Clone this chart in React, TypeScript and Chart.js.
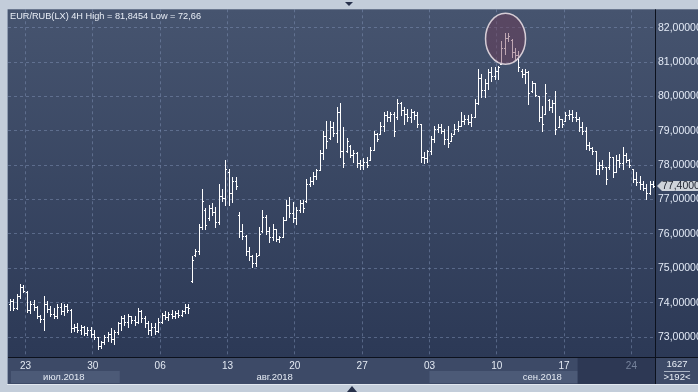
import React, { useEffect, useRef } from 'react';
import { Chart, registerables } from 'chart.js';

Chart.register(...registerables);

const chartTitle = 'EUR/RUB(LX) 4H High = 81,8454 Low = 72,66';
const weekStartBars = [4, 24, 44, 64, 84, 104, 124, 144, 164, 184];
const weekLabels = ['23', '30', '06', '13', '20', '27', '03', '10', '17', '24'];
const monthStartBars = [0, 32, 124];
const monthLabels = ['июл.2018', 'авг.2018', 'сен.2018'];
const yTickValues = [73, 74, 75, 76, 77, 78, 79, 80, 81, 82];
const lastPrice = 77.4;
const totalBarsLabel = '1627';
const visibleBarsLabel = '>192<';
const highlightBar = 147.2;
const highlightPrice = 81.68;
const dimFromBar = 168;

const opens = [
  73.95, 74.05, 73.85, 74.20,
  74.45, 74.30, 73.80, 73.95, 73.88, 73.60, 73.52, 73.95, 73.82, 73.68, 73.62, 73.88, 73.75, 73.90, 73.80, 73.25, 73.30, 73.22, 73.28, 73.12,
  73.20, 73.10, 73.00, 72.75, 72.85, 73.00, 73.10, 72.95, 73.15, 73.40, 73.55, 73.45, 73.60, 73.50, 73.45, 73.75, 73.55, 73.40, 73.20, 73.30,
  73.18, 73.45, 73.65, 73.58, 73.68, 73.62, 73.70, 73.65, 73.75, 73.88, 74.62, 75.40, 75.50, 76.20, 76.70, 76.45, 76.75, 76.65, 76.35, 77.10,
  77.05, 77.80, 77.20, 77.55, 76.55, 76.10, 75.95, 75.50, 75.35, 75.15, 75.40, 76.10, 76.50, 76.10, 75.90, 76.15, 75.85, 75.92, 76.40, 76.85,
  76.60, 76.45, 76.70, 76.90, 76.95, 77.45, 77.55, 77.70, 77.85, 78.35, 78.85, 78.80, 79.10, 78.95, 79.55, 78.40, 78.40, 78.55, 78.30, 78.35,
  78.05, 78.00, 78.10, 78.15, 78.45, 78.90, 78.92, 79.15, 79.45, 79.40, 79.50, 79.40, 79.80, 79.60, 79.50, 79.40, 79.55, 79.45, 79.20, 78.25,
  78.20, 78.40, 78.75, 79.05, 79.10, 79.00, 78.75, 78.70, 78.92, 79.05, 79.15, 79.30, 79.35, 79.25, 79.40, 79.80, 80.55, 80.20, 80.40, 80.70,
  80.60, 80.75, 80.95, 81.40, 81.70, 81.65, 81.30, 81.20, 80.75, 80.65, 80.70, 80.15, 80.40, 80.00, 79.40, 79.50, 79.90, 79.70, 79.80, 79.10,
  79.35, 79.30, 79.45, 79.50, 79.40, 79.35, 79.10, 79.00, 78.60, 78.50, 78.40, 77.90, 78.00, 77.95, 77.95, 78.25, 77.80, 78.15, 78.05, 78.30,
  78.15, 77.90, 77.60, 77.50, 77.45, 77.35, 77.20, 77.45,
];
const highs = [
  74.12, 74.10, 74.25, 74.55,
  74.52, 74.35, 74.05, 74.08, 73.90, 73.65, 74.20, 74.05, 73.90, 73.85, 73.95, 73.98, 73.95, 73.95, 73.82, 73.38, 73.40, 73.35, 73.32, 73.30,
  73.30, 73.22, 73.00, 72.90, 73.05, 73.15, 73.25, 73.20, 73.45, 73.60, 73.65, 73.68, 73.62, 73.62, 73.85, 73.78, 73.60, 73.48, 73.40, 73.42,
  73.55, 73.70, 73.75, 73.72, 73.80, 73.75, 73.78, 73.80, 73.95, 73.95, 75.35, 75.57, 76.30, 77.32, 76.75, 76.85, 76.90, 76.78, 77.46, 77.30,
  78.14, 77.90, 77.65, 77.65, 76.64, 76.30, 75.96, 75.62, 75.40, 75.45, 76.20, 76.69, 76.55, 76.20, 76.30, 76.15, 75.95, 76.49, 76.98, 77.07,
  76.93, 76.78, 76.98, 76.98, 77.60, 77.65, 77.80, 77.90, 78.45, 79.00, 79.30, 79.30, 79.25, 79.69, 79.80, 79.10, 78.80, 78.60, 78.43, 78.38,
  78.14, 78.20, 78.25, 78.52, 79.00, 78.95, 79.25, 79.54, 79.59, 79.55, 79.54, 79.93, 79.85, 79.70, 79.64, 79.64, 79.59, 79.55, 79.20, 78.38,
  78.45, 78.86, 79.15, 79.20, 79.20, 79.05, 79.15, 78.95, 79.20, 79.30, 79.54, 79.45, 79.45, 79.50, 79.93, 80.80, 80.65, 80.50, 80.80, 80.85,
  80.85, 80.90, 81.62, 81.85, 81.8454, 81.67, 81.40, 81.33, 80.80, 80.80, 80.75, 80.46, 80.40, 80.00, 79.73, 80.36, 79.93, 79.90, 80.17, 79.44,
  79.35, 79.54, 79.60, 79.60, 79.55, 79.40, 79.25, 79.10, 78.67, 78.52, 78.42, 78.09, 78.14, 77.95, 78.38, 78.25, 78.30, 78.33, 78.52, 78.35,
  78.18, 77.90, 77.80, 77.70, 77.55, 77.46, 77.55, 77.55,
];
const lows = [
  73.78, 73.80, 73.82, 74.15,
  74.30, 73.72, 73.70, 73.78, 73.55, 73.45, 73.20, 73.72, 73.60, 73.55, 73.55, 73.68, 73.65, 73.72, 73.15, 73.18, 73.15, 73.10, 73.05, 73.05,
  73.00, 72.95, 72.66, 72.68, 72.80, 72.90, 72.85, 72.80, 73.10, 73.20, 73.35, 73.30, 73.40, 73.35, 73.40, 73.45, 73.30, 73.10, 73.05, 73.10,
  73.15, 73.40, 73.52, 73.50, 73.55, 73.55, 73.58, 73.60, 73.70, 73.70, 74.60, 75.35, 75.43, 76.15, 76.15, 76.40, 76.55, 76.20, 76.30, 76.95,
  76.83, 76.83, 76.93, 77.30, 75.91, 75.86, 75.38, 75.24, 75.04, 75.08, 75.38, 76.06, 76.00, 75.77, 75.82, 75.80, 75.78, 75.91, 76.40, 76.49,
  76.35, 76.30, 76.64, 76.64, 76.93, 77.40, 77.46, 77.60, 77.85, 78.19, 78.50, 78.77, 78.85, 78.67, 78.23, 77.94, 78.38, 78.25, 78.09, 77.94,
  77.90, 77.90, 77.95, 78.14, 78.43, 78.70, 78.91, 79.00, 79.30, 79.30, 78.86, 79.35, 79.45, 79.20, 79.30, 79.25, 79.35, 79.10, 78.09, 78.06,
  78.10, 78.33, 78.67, 78.96, 78.95, 78.62, 78.52, 78.70, 78.91, 79.00, 79.15, 79.20, 79.20, 79.15, 79.40, 79.78, 79.98, 79.98, 80.22, 80.46,
  80.50, 80.50, 80.94, 81.23, 81.62, 81.14, 81.10, 80.75, 80.56, 80.40, 79.78, 80.12, 80.00, 79.30, 79.00, 79.50, 79.60, 79.55, 78.91, 79.10,
  79.10, 79.30, 79.35, 79.30, 79.30, 79.00, 78.91, 78.48, 78.43, 78.33, 77.75, 77.75, 77.90, 77.46, 77.90, 77.65, 77.80, 77.94, 77.90, 78.10,
  77.94, 77.50, 77.41, 77.30, 77.27, 77.03, 77.15, 77.36,
];
const closes = [
  74.05, 73.85, 74.20, 74.45,
  74.35, 73.80, 73.95, 73.88, 73.60, 73.52, 73.95, 73.82, 73.68, 73.62, 73.88, 73.75, 73.90, 73.80, 73.25, 73.30, 73.22, 73.28, 73.12, 73.20,
  73.10, 73.00, 72.75, 72.85, 73.00, 73.10, 72.95, 73.15, 73.40, 73.55, 73.45, 73.60, 73.50, 73.45, 73.75, 73.55, 73.40, 73.20, 73.30, 73.18,
  73.45, 73.65, 73.58, 73.68, 73.62, 73.70, 73.65, 73.75, 73.88, 73.85, 75.25, 75.50, 76.20, 76.95, 76.25, 76.75, 76.65, 76.35, 77.10, 77.05,
  77.90, 77.20, 77.55, 77.40, 76.10, 75.95, 75.50, 75.35, 75.15, 75.35, 76.00, 76.50, 76.10, 75.90, 76.15, 75.85, 75.90, 76.40, 76.85, 76.60,
  76.45, 76.70, 76.90, 76.75, 77.45, 77.55, 77.70, 77.85, 78.35, 78.85, 78.70, 79.10, 78.95, 79.55, 78.40, 78.05, 78.70, 78.30, 78.35, 78.05,
  78.00, 78.10, 78.00, 78.45, 78.90, 78.75, 79.15, 79.45, 79.40, 79.50, 79.00, 79.80, 79.60, 79.50, 79.40, 79.55, 79.45, 79.20, 78.25, 78.20,
  78.40, 78.75, 79.05, 79.10, 79.00, 78.75, 78.65, 78.85, 79.05, 79.15, 79.30, 79.35, 79.25, 79.40, 79.80, 80.55, 80.20, 80.40, 80.70, 80.60,
  80.75, 80.85, 81.40, 81.70, 81.75, 81.30, 81.20, 80.85, 80.65, 80.70, 80.10, 80.40, 80.05, 79.40, 79.20, 80.10, 79.70, 79.80, 79.05, 79.35,
  79.20, 79.45, 79.50, 79.40, 79.35, 79.10, 79.00, 78.60, 78.50, 78.40, 77.90, 78.00, 77.95, 77.60, 78.25, 77.80, 78.15, 78.05, 78.30, 78.15,
  78.00, 77.60, 77.50, 77.45, 77.35, 77.20, 77.45, 77.40,
];

const FONT = '"Liberation Sans", Arial, sans-serif';
const GRID = 'rgba(128,146,182,0.5)';
const BOFF = 0.6;

export default function App() {
  const ref = useRef<HTMLCanvasElement>(null);

  useEffect(() => {
    document.body.style.margin = '0';
    const canvas = ref.current;
    if (!canvas) return;

    const fmt = (v: number) => v.toFixed(5).replace('.', ',');

    const bgPlugin = {
      id: 'terminalBg',
      beforeDraw(chart: any) {
        const { ctx, chartArea: ca, width, height } = chart;
        const xs = chart.scales.x;
        const bandBottom = ca.bottom + 27;
        ctx.save();
        ctx.fillStyle = '#c3cdda';
        ctx.fillRect(0, 0, width, height);
        ctx.fillStyle = '#8e9bb0';
        ctx.fillRect(ca.left - 1, ca.top, 1, bandBottom - ca.top);
        const g = ctx.createLinearGradient(0, ca.top, 0, ca.bottom);
        g.addColorStop(0, '#46546f');
        g.addColorStop(1, '#2c3956');
        ctx.fillStyle = g;
        ctx.fillRect(ca.left, ca.top, width - ca.left, ca.bottom - ca.top);
        ctx.fillStyle = '#3d4a67';
        ctx.fillRect(ca.left, ca.bottom, width - ca.left, bandBottom - ca.bottom);
        const rowTop = ca.bottom + 14;
        const rowH = 12;
        ctx.font = `9.5px ${FONT}`;
        ctx.textAlign = 'center';
        ctx.textBaseline = 'middle';
        monthStartBars.forEach((b, k) => {
          const x0 = k === 0 ? ca.left + 3 : xs.getPixelForValue(b + BOFF);
          const x1 = k + 1 < monthStartBars.length ? xs.getPixelForValue(monthStartBars[k + 1] + BOFF) : ca.right;
          if (k % 2 === 0) {
            ctx.fillStyle = '#4c5a77';
            ctx.fillRect(x0, rowTop, x1 - x0, rowH);
          }
        });
        const xd = xs.getPixelForValue(dimFromBar + BOFF);
        ctx.fillStyle = '#2d3854';
        ctx.fillRect(xd, ca.bottom, ca.right - xd, bandBottom - ca.bottom);
        monthStartBars.forEach((b, k) => {
          const x0 = k === 0 ? ca.left : xs.getPixelForValue(b + BOFF);
          const x1 = k + 1 < monthStartBars.length ? xs.getPixelForValue(monthStartBars[k + 1] + BOFF) : ca.right;
          ctx.fillStyle = '#e4eaf3';
          ctx.fillText(monthLabels[k], (x0 + x1) / 2, rowTop + 6);
        });
        ctx.fillStyle = '#0c111d';
        ctx.fillRect(ca.left, ca.bottom, width - ca.left, 1);
        ctx.fillRect(ca.right, ca.top, 1, bandBottom - ca.top);
        ctx.fillStyle = '#e2e8f0';
        ctx.fillRect(ca.left - 1, bandBottom, width, 1);
        ctx.restore();
      },
    };

    const ohlcPlugin = {
      id: 'ohlc',
      beforeDatasetDraw(chart: any, args: any) {
        if (args.index !== 0) return;
        const { ctx } = chart;
        const ys = chart.scales.y;
        ctx.save();
        ctx.fillStyle = '#ffffff';
        args.meta.data.forEach((el: any, i: number) => {
          const x = Math.round(el.x);
          const top = Math.round(Math.min(el.y, el.base));
          const bot = Math.round(Math.max(el.y, el.base));
          ctx.fillRect(x, top, 1, Math.max(1, bot - top + 1));
          ctx.fillRect(x - 1, Math.round(ys.getPixelForValue(opens[i])), 1, 1);
          ctx.fillRect(x + 1, Math.round(ys.getPixelForValue(closes[i])), 1, 1);
        });
        ctx.restore();
        return false;
      },
    };

    const overlayPlugin = {
      id: 'overlay',
      afterDatasetsDraw(chart: any) {
        const { ctx } = chart;
        const xs = chart.scales.x;
        const ys = chart.scales.y;
        ctx.save();
        ctx.beginPath();
        ctx.ellipse(xs.getPixelForValue(highlightBar), ys.getPixelForValue(highlightPrice), 20, 25.5, 0, 0, Math.PI * 2);
        ctx.fillStyle = 'rgba(113,58,84,0.45)';
        ctx.fill();
        ctx.lineWidth = 1.5;
        ctx.strokeStyle = '#d6cdd6';
        ctx.stroke();
        ctx.restore();
      },
      afterDraw(chart: any) {
        const { ctx, chartArea: ca, width } = chart;
        const ys = chart.scales.y;
        ctx.save();
        ctx.font = `9.2px ${FONT}`;
        ctx.textAlign = 'left';
        ctx.textBaseline = 'middle';
        ctx.fillStyle = '#e9eef6';
        ctx.fillText(chartTitle, ca.left + 2, ca.top + 7);
        const py = Math.round(ys.getPixelForValue(lastPrice));
        ctx.beginPath();
        ctx.moveTo(ca.right + 2, py);
        ctx.lineTo(ca.right + 7, py - 5);
        ctx.lineTo(width, py - 5);
        ctx.lineTo(width, py + 5);
        ctx.lineTo(ca.right + 7, py + 5);
        ctx.closePath();
        ctx.fillStyle = '#cfd3da';
        ctx.fill();
        ctx.fillStyle = '#1e2330';
        ctx.font = `10.5px ${FONT}`;
        ctx.fillText(fmt(lastPrice), ca.right + 7, py + 0.5);
        const cx = (ca.right + 1 + width) / 2;
        ctx.textAlign = 'center';
        ctx.font = `9.5px ${FONT}`;
        ctx.fillStyle = '#e8eef6';
        ctx.fillText(totalBarsLabel, cx, ca.bottom + 7.5);
        ctx.fillText(visibleBarsLabel, cx, ca.bottom + 20.5);
        ctx.fillStyle = '#aab4c4';
        ctx.fillRect(cx - 13, ca.bottom + 14, 26, 1);
        ctx.fillStyle = '#26304a';
        ctx.beginPath();
        ctx.moveTo(345, 2);
        ctx.lineTo(353, 2);
        ctx.lineTo(349, 6);
        ctx.closePath();
        ctx.fill();
        ctx.beginPath();
        ctx.moveTo(347, 392);
        ctx.lineTo(357, 392);
        ctx.lineTo(352, 386);
        ctx.closePath();
        ctx.fill();
        ctx.restore();
      },
    };

    const chart = new Chart(canvas, {
      type: 'bar',
      data: {
        datasets: [
          {
            data: highs.map((h, i) => ({ x: i, y: [lows[i], h] })) as any,
            barThickness: 1,
            backgroundColor: '#ffffff',
          },
        ],
      },
      options: {
        animation: false,
        responsive: false,
        devicePixelRatio: 1,
        events: [],
        layout: { padding: { left: 8, top: 8, right: 0, bottom: 0 } },
        plugins: { legend: { display: false }, tooltip: { enabled: false }, title: { display: false } },
        scales: {
          x: {
            type: 'linear',
            position: 'bottom',
            offset: false,
            min: -0.6,
            max: 191.6,
            afterFit: (s: any) => { s.height = 35; },
            afterBuildTicks: (s: any) => { s.ticks = weekStartBars.map((b) => ({ value: b + BOFF })); },
            grid: { color: GRID, drawTicks: false, lineWidth: 1, offset: false },
            border: { display: false, dash: [3, 3] },
            ticks: {
              autoSkip: false,
              maxRotation: 0,
              padding: 3,
              font: { family: FONT, size: 10 },
              color: (c: any) => (weekStartBars[c.index] >= dimFromBar ? '#76839c' : '#e4eaf3'),
              callback: (_v: any, i: number) => weekLabels[i],
            },
          },
          y: {
            position: 'right',
            min: 72.42,
            max: 82.536,
            afterFit: (s: any) => { s.width = 43; },
            afterBuildTicks: (s: any) => { s.ticks = yTickValues.map((v) => ({ value: v })); },
            grid: { color: GRID, drawTicks: false, lineWidth: 1 },
            border: { display: false, dash: [3, 3] },
            ticks: {
              crossAlign: 'near',
              padding: 3,
              color: '#e3eaf6',
              font: { family: FONT, size: 10.5 },
              callback: (v: any) => fmt(Number(v)),
            },
          },
        },
      } as any,
      plugins: [bgPlugin, ohlcPlugin, overlayPlugin],
    });

    return () => chart.destroy();
  }, []);

  return (
    <div style={{ width: 698, height: 392 }}>
      <canvas ref={ref} width={698} height={392} style={{ display: 'block', width: 698, height: 392 }} />
    </div>
  );
}
